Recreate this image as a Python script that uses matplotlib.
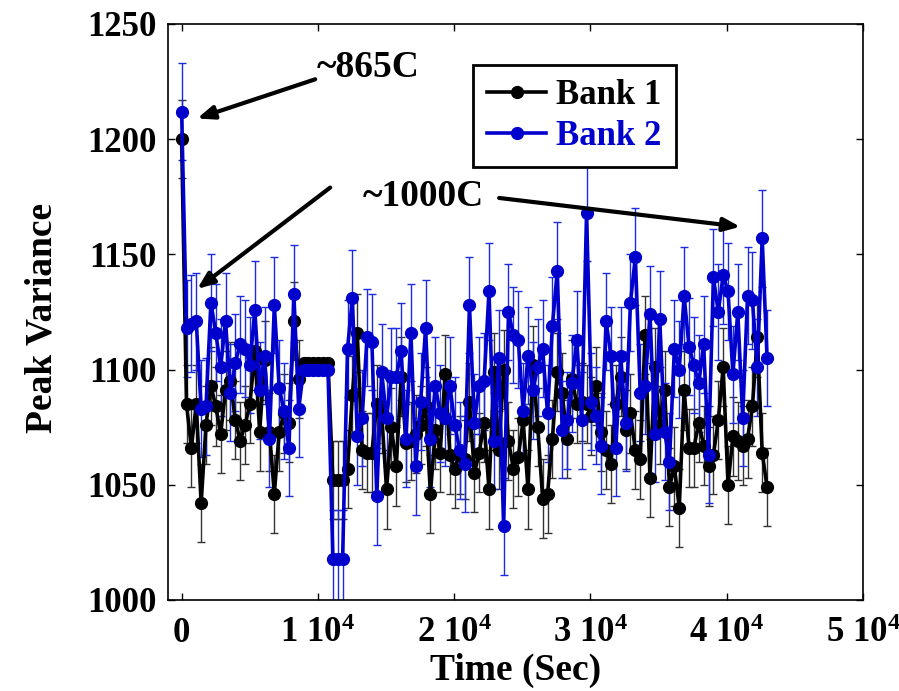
import numpy as np
import matplotlib
matplotlib.use("Agg")
import matplotlib.pyplot as plt
from matplotlib.lines import Line2D

# ---------------- data ----------------
bank1 = [1200, 1085, 1066, 1085, 1042, 1076, 1093, 1084, 1072, 1091, 1095, 1078, 1069, 1076, 1085,
         1108, 1073, 1104, 1073, 1046, 1073, 1081, 1077, 1121, 1096,
         1103, 1103, 1103, 1103, 1103, 1103, 1052, 1052, 1052,
         1057, 1089, 1116, 1065, 1064, 1064, 1085, 1081, 1048, 1075, 1058, 1097, 1068, 1069, 1072,
         1076, 1084, 1046, 1074, 1064, 1098, 1063, 1057, 1063, 1061, 1086, 1055, 1064, 1077, 1048,
         1099, 1065, 1100, 1069, 1057, 1062, 1078, 1048, 1102, 1075, 1044, 1046, 1070, 1099, 1090,
         1070, 1096, 1085, 1086, 1085, 1080, 1093, 1073, 1065, 1059, 1085, 1097, 1074, 1081, 1065,
         1061, 1115, 1053, 1101, 1076, 1091, 1049, 1058, 1040, 1091, 1066, 1066, 1077, 1067, 1058,
         1063, 1078, 1101, 1050, 1071, 1069, 1067, 1070, 1084, 1114, 1064, 1049]
bank2 = [1212, 1118, 1120, 1121, 1083, 1084, 1129, 1116, 1101, 1121, 1090, 1103, 1111, 1109, 1102,
         1126, 1091, 1106, 1070, 1128, 1092, 1082, 1066, 1133, 1083,
         1100, 1100, 1100, 1100, 1100, 1100, 1018, 1018, 1018,
         1109, 1131, 1071, 1079, 1114, 1112, 1045, 1099, 1079, 1097, 1097, 1108, 1070, 1116, 1058,
         1086, 1118, 1070, 1093, 1081, 1079, 1093, 1076, 1065, 1059, 1128, 1077, 1093, 1095, 1134,
         1069, 1105, 1032, 1125, 1115, 1113, 1082, 1106, 1091, 1101, 1109, 1081, 1119, 1143, 1074,
         1078, 1094, 1113, 1078, 1168, 1086, 1080, 1067, 1121, 1106, 1066, 1106, 1077, 1129, 1149,
         1090, 1093, 1124, 1072, 1122, 1073, 1060, 1109, 1100, 1132, 1110, 1102, 1094, 1111, 1063,
         1140, 1125, 1141, 1134, 1098, 1125, 1079, 1132, 1130, 1101, 1157, 1105]
# uniform sampling of the time axis (seconds)
sample_interval = 358
time_s = np.arange(len(bank1)) * sample_interval

# error bar half-widths (flat plateau points have no error)
err1 = np.full(len(bank1), 17.0)
err2 = np.full(len(bank2), 21.0)
err1[25:31] = 0
err2[25:31] = 0

x_ticks = [0, 10000, 20000, 30000, 40000, 50000]
x_ticklabels = ["0", r"1 10$^{4}$", r"2 10$^{4}$", r"3 10$^{4}$", r"4 10$^{4}$", r"5 10$^{4}$"]
y_ticks = [1000, 1050, 1100, 1150, 1200, 1250]
series_labels = ["Bank 1", "Bank 2"]

# ---------------- style ----------------
plt.rcParams["font.family"] = ["Liberation Serif", "DejaVu Serif"]
plt.rcParams["font.weight"] = "bold"
plt.rcParams["mathtext.fontset"] = "custom"
plt.rcParams["mathtext.rm"] = "Liberation Serif:bold"
plt.rcParams["mathtext.it"] = "Liberation Serif:bold"
plt.rcParams["mathtext.bf"] = "Liberation Serif:bold"
plt.rcParams["mathtext.default"] = "rm"

black = "#000000"
blue = "#0000CD"

fig = plt.figure(figsize=(8.99, 6.91), dpi=100)
ax = fig.add_axes([168 / 899, 1 - 600 / 691, (863 - 168) / 899, (600 - 24) / 691])

ax.errorbar(time_s, bank1, yerr=err1, fmt="-o", color=black, ms=8.5, lw=2.6,
            elinewidth=1.0, ecolor="#333333", capsize=3, capthick=1.0)
ax.errorbar(time_s, bank2, yerr=err2, fmt="-o", color=blue, ms=8.5, lw=2.6,
            elinewidth=1.0, ecolor="#1a2be0", capsize=3, capthick=1.0)

ax.set_xlim(-1000, 50000)
ax.set_ylim(1000, 1250)
ax.set_xticks(x_ticks)
ax.set_xticklabels(x_ticklabels)
ax.set_yticks(y_ticks)
ax.tick_params(direction="in", top=True, right=True, length=5, width=1,
               labelsize=25)
ax.tick_params(axis="y", pad=8)
ax.tick_params(axis="x", pad=12)
for lab in ax.get_xticklabels() + ax.get_yticklabels():
    lab.set_fontweight("bold")
for sp in ax.spines.values():
    sp.set_linewidth(1.2)

ax.set_xlabel("Time (Sec)", fontsize=27, fontweight="bold")
ax.xaxis.set_label_coords(0.5, -0.122)
ax.xaxis.label.set_va("center")
ax.set_ylabel("Peak Variance", fontsize=27, fontweight="bold")
ax.yaxis.set_label_coords(-0.181, 0.49)
ax.yaxis.label.set_va("center")

# annotations
arrow_kw = dict(arrowstyle="-|>,head_length=1.0,head_width=0.4", lw=3, color="black",
                shrinkA=0, shrinkB=0)
ax.annotate("", xy=(1140, 1209), xytext=(9800, 1226), arrowprops=arrow_kw)
ax.text(13700, 1231, "~865C", fontsize=27, fontweight="bold", ha="center", va="center")
ax.annotate("", xy=(1140, 1135), xytext=(10900, 1179), arrowprops=arrow_kw)
ax.text(17700, 1175, "~1000C", fontsize=27, fontweight="bold", ha="center", va="center")
ax.annotate("", xy=(41000, 1162), xytext=(23300, 1174.5), arrowprops=arrow_kw)

handles = [Line2D([], [], color=black, marker="o", ms=8.5, lw=2.6),
           Line2D([], [], color=blue, marker="o", ms=8.5, lw=2.6)]
leg = ax.legend(handles, series_labels, loc="upper left", bbox_to_anchor=(0.439, 0.929),
                fontsize=25, frameon=True, fancybox=False, edgecolor="black", framealpha=1,
                handlelength=1.7, handletextpad=0.3, borderpad=0.4, labelspacing=0.25,
                borderaxespad=0)
leg.get_frame().set_linewidth(2)
for txt, c in zip(leg.get_texts(), [black, blue]):
    txt.set_color(c)
    txt.set_fontweight("bold")

fig.savefig("out.png", dpi=100)
